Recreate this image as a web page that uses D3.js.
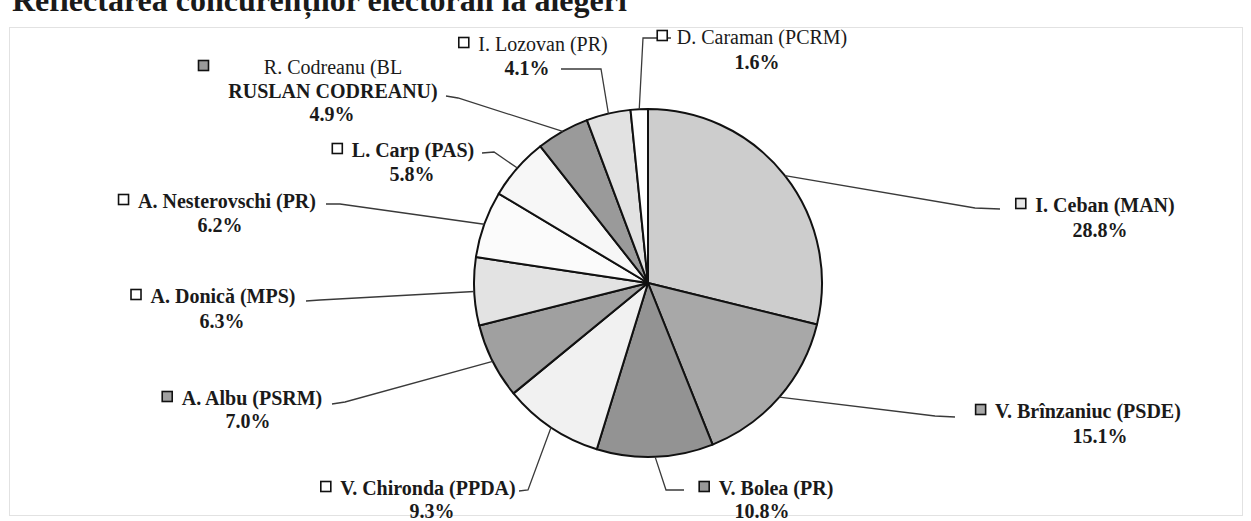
<!DOCTYPE html>
<html><head><meta charset="utf-8">
<script src="https://cdn.jsdelivr.net/npm/d3@7"></script>
<style>
html,body{margin:0;padding:0;background:#fff;}
svg{display:block;}
text{font-family:"Liberation Serif","Times New Roman",serif;fill:#1a1a1a;}
</style></head>
<body>
<svg id="chart" width="1251" height="521"></svg>
<script>
// ---- data ----
const candidates = ["I. Ceban (MAN)", "V.  Brînzaniuc (PSDE)", "V. Bolea (PR)", "V. Chironda (PPDA)",
  "A. Albu (PSRM)", "A. Donică (MPS)", "A. Nesterovschi (PR)", "L. Carp (PAS)",
  "R. Codreanu (BL RUSLAN CODREANU)", "I. Lozovan (PR)", "D. Caraman (PCRM)"];
const shares = [28.8, 15.1, 10.8, 9.3, 7.0, 6.3, 6.2, 5.8, 4.9, 4.1, 1.6];
const titleText = "Reflectarea concurenților electorali la alegeri";

// ---- styles ----
const fills = ["#cdcdcd", "#a8a8a8", "#939393", "#f1f1f1", "#a0a0a0", "#e3e3e3",
  "#fbfbfb", "#f7f7f7", "#9a9a9a", "#e2e2e2", "#ffffff"];
const boxFills = ["#e8e8e8", "#a8a8a8", "#999", "#fff", "#a0a0a0", "#fff",
  "#fff", "#fff", "#9a9a9a", "#fff", "#fff"];
const weights = ["bold", "bold", "bold", "bold", "bold", "bold", "bold", "bold", "normal", "normal", "normal"];

// ---- layout (label positions) ----
const layout = [
  {lines:["I. Ceban (MAN)"], tx:1105, ty:212, px:1100, py:237, path:[[1000,209],[975,208]]},
  {lines:["V.  Brînzaniuc (PSDE)"], tx:1088, ty:418, px:1100, py:443, path:[[955,417],[935,416]]},
  {lines:["V. Bolea (PR)"], tx:776, ty:495, px:762, py:518, path:[[684,490],[666,490]]},
  {lines:["V. Chironda (PPDA)"], tx:428, ty:495, px:432, py:518, path:[[519,491],[528,490]]},
  {lines:["A. Albu (PSRM)"], tx:252, ty:405, px:248, py:428, path:[[332,404],[345,402]]},
  {lines:["A. Donică (MPS)"], tx:223, ty:303, px:222, py:328, path:[[306,301],[320,300]]},
  {lines:["A. Nesterovschi (PR)"], tx:227, ty:208, px:220, py:232, path:[[326,204],[340,204]]},
  {lines:["L. Carp (PAS)"], tx:413, ty:157, px:412, py:181, path:[[482,153],[494,152]]},
  {lines:["R. Codreanu (BL", "RUSLAN CODREANU)"], tx:333, ty:74, bx:198, px:332, py:121, path:[[446,96],[458,98]]},
  {lines:["I. Lozovan (PR)"], tx:543, ty:51, px:527, py:75, path:[[561,69],[601,69]]},
  {lines:["D. Caraman (PCRM)"], tx:762, ty:44, px:757, py:69, path:[[671,38],[643,38]]}
];

const cx = 648, cy = 283, R = 174;
const svg = d3.select("#chart");

// faint scan frame
svg.append("rect").attr("x", 9.5).attr("y", 27.5).attr("width", 1233).attr("height", 488)
  .attr("fill", "none").attr("stroke", "#e2e2e2").attr("stroke-width", 1);

// title (cut off at the top of the image)
svg.append("text").attr("x", 12).attr("y", 11)
  .attr("font-size", 32).attr("font-weight", "bold").text(titleText);

const pieGen = d3.pie().sort(null).value(d => d);
const arcs = pieGen(shares);
const arcGen = d3.arc().innerRadius(0).outerRadius(R);

const g = svg.append("g").attr("transform", `translate(${cx},${cy})`);
g.selectAll("path.slice").data(arcs).enter().append("path")
  .attr("class", "slice")
  .attr("d", arcGen)
  .attr("fill", (d, i) => fills[i])
  .attr("stroke", "#111").attr("stroke-width", 2).attr("stroke-linejoin", "round");

// leader lines
const line = d3.line();
arcs.forEach((d, i) => {
  const a = (d.startAngle + d.endAngle) / 2;
  const ex = cx + R * Math.sin(a), ey = cy - R * Math.cos(a);
  const pts = layout[i].path.concat([[ex, ey]]);
  svg.append("path").attr("d", line(pts)).attr("fill", "none")
    .attr("stroke", "#3a3a3a").attr("stroke-width", 1.3);
});

// labels
arcs.forEach((d, i) => {
  const L = layout[i];
  let firstLeft = null;
  L.lines.forEach((s, k) => {
    const t = svg.append("text").attr("x", L.tx).attr("y", L.ty + k * 24)
      .attr("text-anchor", "middle").attr("font-size", 20)
      .attr("font-weight", k === 1 ? "bold" : weights[i]).text(s);
    if (k === 0) firstLeft = t.node().getBBox().x;
  });
  const bx = L.bx !== undefined ? L.bx : firstLeft - 20;
  svg.append("rect").attr("x", bx + 0.5).attr("y", L.ty - 13.5).attr("width", 10).attr("height", 10)
    .attr("fill", boxFills[i]).attr("stroke", "#111").attr("stroke-width", 1.6);
  svg.append("text").attr("x", L.px).attr("y", L.py)
    .attr("text-anchor", "middle").attr("font-size", 20).attr("font-weight", "bold")
    .text(d3.format(".1f")(shares[i]) + "%");
});
</script>
</body></html>
